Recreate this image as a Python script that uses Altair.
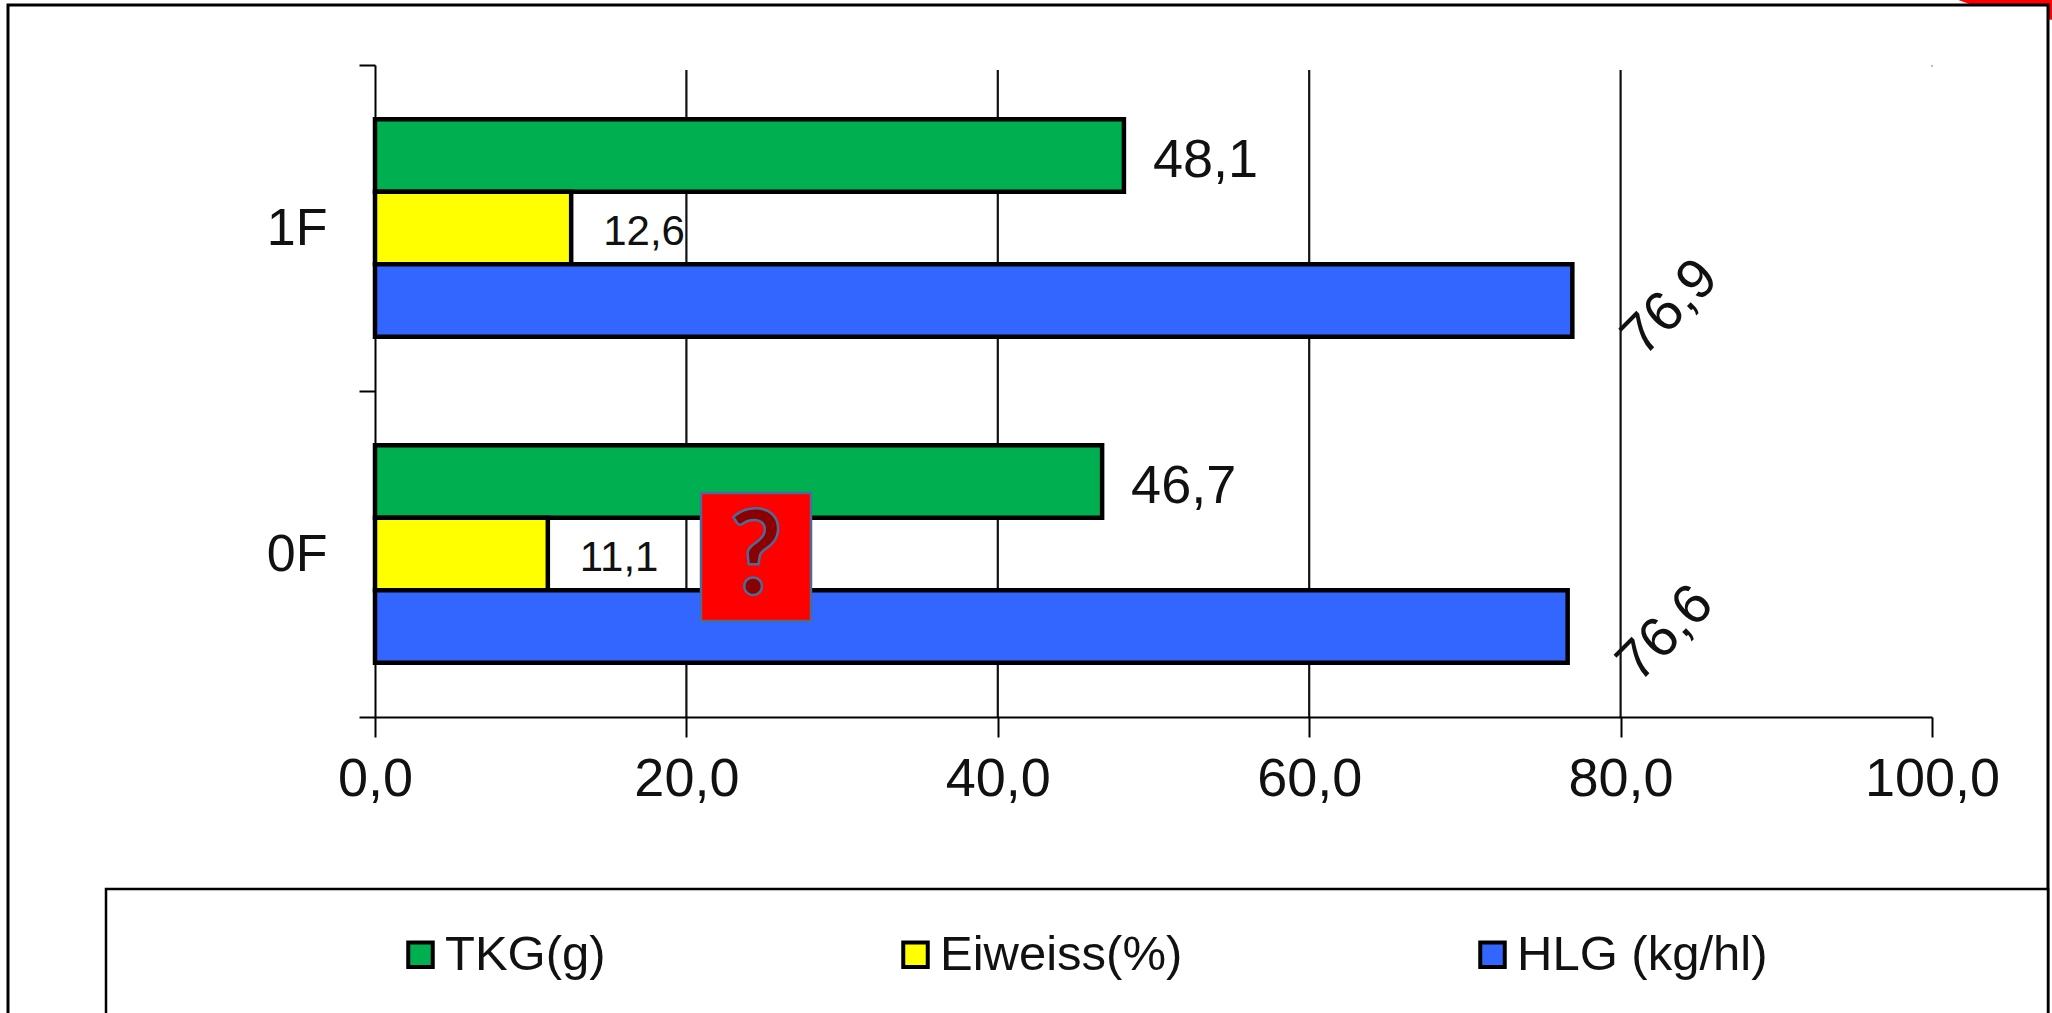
import altair as alt
import pandas as pd

categories = ["1F", "0F"]
series = ["TKG(g)", "Eiweiss(%)", "HLG (kg/hl)"]
colors = ["#00B050", "#FFFF00", "#3366FF"]
tkg = [48.1, 46.7]
eiweiss = [12.6, 11.1]
hlg = [76.9, 76.6]
grid_values = [20, 40, 60, 80]
FONT = "Liberation Sans"

LEFT, TOP, W, H = 375, 65, 1557, 652


def px_x(v):
    return alt.value(v - LEFT)


def px_y(v):
    return alt.value(v - TOP)


rows = []
for name, vals in zip(series, [tkg, eiweiss, hlg]):
    for cat, v in zip(categories, vals):
        rows.append({"cat": cat, "series": name, "value": v,
                     "label": f"{v:.1f}".replace(".", ",")})
df = pd.DataFrame(rows)
one = alt.Data(values=[{"k": 1}])

y_enc = alt.Y(
    "cat:N",
    sort=categories,
    title=None,
    scale=alt.Scale(paddingInner=0, paddingOuter=0),
    axis=alt.Axis(
        tickBand="extent", domainColor="black", domainWidth=2, tickColor="black",
        tickWidth=2, tickSize=16, labelFont=FONT, labelFontSize=52,
        labelColor="#111", labelPadding=32, grid=False, zindex=1,
    ),
)
y_off = alt.YOffset(
    "series:N",
    sort=series,
    scale=alt.Scale(domain=series, paddingInner=0, paddingOuter=0.75),
)
x_scale = alt.Scale(domain=[0, 100], nice=False, zero=True)

# Page furniture behind the chart: corner shape, white panel
corner = alt.Chart(one).mark_point(
    shape="circle", filled=True, color="#FF0000", size=360000, opacity=1
).encode(x=alt.value(2066 - LEFT), y=alt.value(-280 - TOP))
panel = alt.Chart(one).mark_rect(color="white", stroke="black", strokeWidth=3).encode(
    x=px_x(8), x2=px_x(2048), y=px_y(5), y2=px_y(1030)
)
legend_box = alt.Chart(one).mark_rect(color="white", stroke="black", strokeWidth=2.5).encode(
    x=px_x(106), x2=px_x(2048), y=px_y(889), y2=px_y(1030)
)

grid = alt.Chart(pd.DataFrame({"v": grid_values})).mark_rule(color="#111", strokeWidth=2.2).encode(
    x=alt.X("v:Q", scale=x_scale), y=alt.value(5), y2=alt.value(H)
)
speck = alt.Chart(pd.DataFrame({"v": [100]})).mark_rule(color="#bbb", strokeWidth=2).encode(
    x=alt.X("v:Q", scale=x_scale), y=alt.value(0), y2=alt.value(2)
)

bars = alt.Chart(df).mark_bar(stroke="black", strokeWidth=4.5).encode(
    x=alt.X(
        "value:Q",
        scale=x_scale,
        title=None,
        axis=alt.Axis(
            values=[0, 20, 40, 60, 80, 100],
            labelExpr="replace(format(datum.value, '.1f'), '.', ',')",
            domainColor="black", domainWidth=2, ticks=True, tickColor="black",
            tickWidth=2, tickSize=20, grid=False,
            labelFont=FONT, labelFontSize=54, labelColor="#111", labelPadding=15,
            labelFlush=False, labelOverlap=False, zindex=1,
        ),
    ),
    y=y_enc,
    yOffset=y_off,
    color=alt.Color(
        "series:N",
        sort=series,
        scale=alt.Scale(domain=series, range=colors),
        legend=alt.Legend(
            orient="none", legendX=396 - LEFT, legendY=930 - TOP, direction="horizontal",
            columns=3, title=None, padding=0, columnPadding=285, gridAlign="each",
            symbolType="square", symbolSize=600, symbolStrokeColor="black",
            symbolStrokeWidth=4, symbolOpacity=1,
            labelFont=FONT, labelFontSize=49, labelColor="#111", labelOffset=0,
            labelLimit=400,
        ),
    ),
)


def value_labels(name, size, dx, dy=0, angle=0, align="left"):
    return alt.Chart(df[df.series == name]).mark_text(
        font=FONT, fontSize=size, color="#111", dx=dx, dy=dy, angle=angle,
        align=align, baseline="middle",
    ).encode(
        x=alt.X("value:Q", scale=x_scale),
        y=y_enc,
        yOffset=y_off,
        text="label:N",
    )


tkg_labels = value_labels(series[0], 54, 29, dy=5)
eiweiss_labels = value_labels(series[1], 42, 32, dy=4)
# dx and dy of rotated text act along the rotated baseline
hlg_labels = value_labels(series[2], 56, 64, dy=74, angle=315, align="center")

# Broken-image placeholder sitting over the bars
badge = alt.Chart(one).mark_rect(color="#FF0000", stroke="#4A6C96", strokeWidth=2.5).encode(
    x=px_x(701), x2=px_x(811), y=px_y(493), y2=px_y(621)
)
badge_mark = alt.Chart(one).mark_text(
    text="?", font="Lato", fontSize=116, fontWeight="bold", color="#8B0000",
    stroke="#4A6C96", strokeWidth=2.5, align="center", baseline="middle",
).encode(x=px_x(756), y=px_y(559))

chart = alt.layer(
    corner, panel, legend_box, grid, speck, bars,
    tkg_labels, eiweiss_labels, hlg_labels, badge, badge_mark,
).properties(
    width=W,
    height=H,
    padding={"left": LEFT, "top": TOP, "right": 2052 - LEFT - W, "bottom": 1013 - TOP - H},
    autosize=alt.AutoSizeParams(type="none"),
    background="white",
).configure_view(stroke=None)

chart.save("out.html", embed_options={"renderer": "svg", "actions": False})
